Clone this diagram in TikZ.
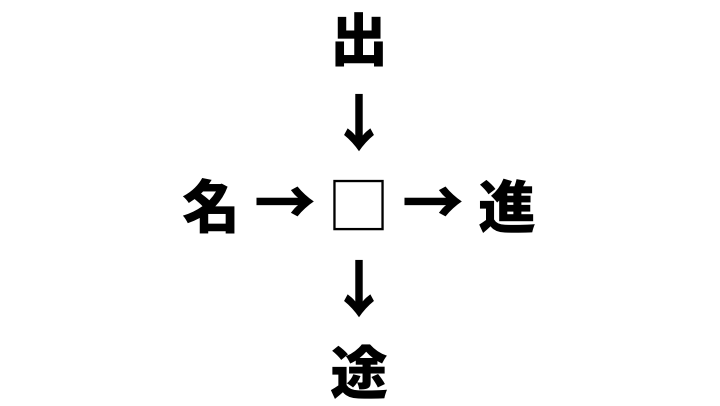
\documentclass[tikz,border=0pt]{standalone}
\usepackage{fontspec}
\newfontfamily\cjk{Noto Sans CJK JP}
\usepackage{tikz}
\usetikzlibrary{positioning}

\begin{document}
\begin{tikzpicture}[x=1pt, y=1pt, node distance=74pt]
		\tikzstyle{kanji} = [inner sep=0pt, font=\cjk\bfseries\fontsize{58}{58}\selectfont]
		\tikzstyle{arrowglyph} = [inner sep=0pt, font=\cjk\bfseries\fontsize{62}{62}\selectfont]
		\tikzstyle{blank} = [inner sep=0pt, font=\cjk\fontsize{63}{63}\selectfont]
		%-------------------------------------------------------
		\useasboundingbox (0,0) rectangle (720,405);
		% centre square and its neighbours
		\node (box) [blank] at (359,199) {□};
		
			\node (a1) [arrowglyph, left of = box] {→};
			\node (mei) [kanji, left of = a1] {名};
			\node (a2) [arrowglyph, right of = box] {→};
			\node (shin) [kanji, right of = a2] {進};
			
			\node (a3) [arrowglyph, above of = box, yshift=9pt] {↓};
			\node (shutsu) [kanji, above of = a3, yshift=9pt] {出};
			\node (a4) [arrowglyph, below of = box, yshift=-9pt] {↓};
			\node (to) [kanji, below of = a4, yshift=-9pt] {途};
		\end{tikzpicture}
\end{document}
